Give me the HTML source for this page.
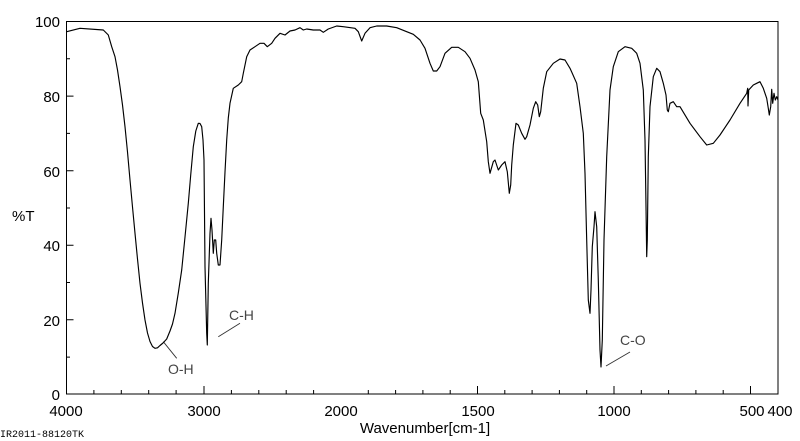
<!DOCTYPE html>
<html><head><meta charset="utf-8"><style>
html,body{margin:0;padding:0;background:#fff;}
svg{display:block;}
text{font-family:"Liberation Sans",sans-serif;}
</style></head><body>
<svg width="800" height="441" viewBox="0 0 800 441" xmlns="http://www.w3.org/2000/svg">
<g stroke="#000" stroke-width="1" fill="none">
<path d="M66.5,21.5 H778 V394 H66.5 Z"/>
</g>
<g stroke="#000" stroke-width="1">
<path d="M66.5,96.1h7M66.5,170.7h7M66.5,245.2h7M66.5,319.8h7 M66.5,58.8h3.5M66.5,133.4h3.5M66.5,208h3.5M66.5,282.5h3.5M66.5,357.1h3.5"/>
<path d="M93.9,394v-4M121.3,394v-4M148.7,394v-4M176.1,394v-4M204,394v-8M231.4,394v-4M258.8,394v-4M286.2,394v-4M313.6,394v-4"/>
<path d="M368.3,394v-4M395.6,394v-4M422.9,394v-4M450.2,394v-4M477.5,394v-8M504.8,394v-4M532.1,394v-4M559.4,394v-4M586.7,394v-4M614,394v-8M641.3,394v-4M668.6,394v-4M695.9,394v-4M723.2,394v-4M750.5,394v-8"/>
</g>
<g font-size="15" fill="#000">
<text x="60" y="27" text-anchor="end">100</text>
<text x="60" y="102" text-anchor="end">80</text>
<text x="60" y="177" text-anchor="end">60</text>
<text x="60" y="251" text-anchor="end">40</text>
<text x="60" y="326" text-anchor="end">20</text>
<text x="60" y="400" text-anchor="end">0</text>
<text x="12" y="221">%T</text>
<text x="66" y="416" text-anchor="middle">4000</text>
<text x="204" y="416" text-anchor="middle">3000</text>
<text x="341" y="416" text-anchor="middle">2000</text>
<text x="478" y="416" text-anchor="middle">1500</text>
<text x="614" y="416" text-anchor="middle">1000</text>
<text x="752" y="416" text-anchor="middle">500</text>
<text x="780" y="416" text-anchor="middle">400</text>
<text x="425" y="433" text-anchor="middle">Wavenumber[cm-1]</text>
</g>
<text x="0" y="437" font-size="10" style="font-family:'Liberation Mono',monospace">IR2011-88120TK</text>
<g font-size="14" fill="#444">
<text x="168" y="374">O-H</text>
<text x="229" y="320">C-H</text>
<text x="620" y="345">C-O</text>
</g>
<g stroke="#333" stroke-width="0.9">
<path d="M163.3,341.7L176.7,358.3M218.3,336.7L240,323.3M606,366L630,352"/>
</g>
<polyline fill="none" stroke="#000" stroke-width="1.15" stroke-linejoin="round" points="
66.7,31.7 80,28.3 103.3,30 108.3,35 111.7,46.7 115,56.7 117.5,70 120,86.7 122.5,105 125,126.7 127.5,152 130,180 132.5,207 135,233.3 137.5,259 140,283.3 142.5,303 145,320 147.5,333 150,341.5 152.5,346.5 155,348.3 157.5,347.8 160,345.5 163,343 166.7,339 170,331 172.5,324 175,313.3 178.3,293 181.7,270 185,237 188.3,203.3 190.8,174 193.3,146.7 195.8,131 198.3,123.3 200,123.5 201.7,126.7 203,140 204,160 205,266.7 206.7,333.3 207.3,345 208.3,283.3 210,233.3 211,218.3 212,230 213.3,253.3 214.3,240 215.7,240 216.7,253.3 218.3,265 220,265 221.7,240 223.3,206.7 225,172 226.7,140 228.3,118 230,103.3 233.3,88.3 238.3,85 241.7,81.7 243.3,73.3 246.7,56.7 250,50 255,46.7 260,43.3 264,43.3 267.3,46.7 271.7,43.3 275,38.3 280,33.3
285,35 290,31 295,30 300,27.7 303.3,30 306.7,29 313.3,30 320,30 323.3,32.3 328.3,29 336.7,26 343.3,26.7 355,28.3 358.3,31.7 361.7,41 365,33.3 370,27.7 376.7,26 386.7,26 396.7,27.7 406.7,31.7 413.3,34.3 420,40 425,48.3 430,63.3 433.3,71 436.7,71 440,66.7 445,53.3 451.7,47.3 458.3,47.3 465,51.7 470,58.3 475,70 478.3,81.7 480.7,113.3 483.3,120 486.7,141.7 488.3,161.7 490,173.3 493.3,161.7 495,160 498.3,170 501.7,165 505,161.7 507.3,171.7 509.3,193.3 510.7,185 511.7,165 513.3,145 516,123.3 518.3,125 521.7,133.3 525,139.3 526.7,136.7 530,125 533.3,108.3 535.7,101.7 537.7,105 539.3,116.7 540.7,111.7 543.3,88.3 546.7,71.7 553.3,63.3 560,59 565,60 570,68.3 571.7,72 576.7,83.3 580,106.7 583.3,133.3 585,173.3 586.7,240 588.3,300 590,313.3 591,290 592.3,246.7 594,226.7 595,211.7 596.7,226.7 598.3,280 600,350 601,367 602.3,340 604,240 606.7,156.7 610,90 613.3,66.7 618.3,51.7 625,46.7 631.7,48.3 636.7,53.3 640,63.3 643.3,90 645,140 646,206.7 646.7,256.7 647.3,240 648.3,156.7 650,106.7 653.3,76.7 656.7,68.3 660,71.7 663.3,83.3 666,95 667.3,110 668.3,111.7 670,103.3 673.3,101.7 676.7,106.7 680,106.7 690,123.3 700,136.7 706.7,145 713.3,143.3 720,135 730,120 740,103.3 746.7,93.3 747.7,88.3 748,106 748.7,90 753.3,85 756.7,83.3 760,81.7 763.3,88.3 766.7,98.3 768.3,108.3 769.3,115 770.7,106.7 771.7,89.3 772.7,103.3 774,93.3 775.3,100 776.7,96.7 778,100"/>
</svg>
</body></html>
